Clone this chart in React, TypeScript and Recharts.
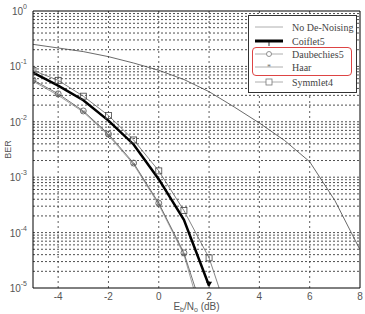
import React from "react";
import { LineChart, Line, XAxis, YAxis, ReferenceLine, Legend } from "recharts";

document.body.style.margin = "0";

// Eb/No (dB) sample points and BER
const xNoDenoise = [-5, -4, -3, -2, -1, 0, 1, 2, 3, 4, 5, 6, 7, 8];
const berNoDenoise = [0.25, 0.215, 0.185, 0.15, 0.115, 0.085, 0.058, 0.035, 0.0185, 0.0095, 0.0046, 0.0019, 0.00038, 0.000049];

const xCoiflet = [-5, -4, -3, -2, -1, 0, 1, 2];
const berCoiflet = [0.077, 0.045, 0.0245, 0.0105, 0.0039, 0.00092, 0.00017, 0.000011];

const xDaub = [-5, -4, -3, -2, -1, 0, 1, 1.45];
const berDaub = [0.057, 0.032, 0.0157, 0.006, 0.0018, 0.00034, 0.000043, 0.00001];

const xHaar = [-5, -4, -3, -2, -1, 0, 1, 1.38];
const berHaar = [0.054, 0.03, 0.015, 0.0057, 0.0017, 0.00032, 0.00004, 0.00001];

const xSymmlet = [-5, -4, -3, -2, -1, 0, 1, 2, 2.4];
const berSymmlet = [0.085, 0.056, 0.029, 0.013, 0.0047, 0.0013, 0.00025, 0.000035, 0.00001];

const seriesNames = ["No De-Noising", "Coiflet5", "Daubechies5", "Haar", "Symmlet4"];

const xTicks = [-4, -2, 0, 2, 4, 6, 8];
const yTicks = [1e-5, 1e-4, 1e-3, 1e-2, 1e-1, 1];
const gridX = [-4, -2, 0, 2, 4, 6];
const gridY: number[] = [];
for (let d = -5; d < 0; d++) {
  for (let m = 1; m <= 9; m++) {
    if (!(d === -5 && m === 1)) gridY.push(m * Math.pow(10, d));
  }
}

const zip = (xs: number[], ys: number[]) => xs.map((x, i) => ({ x, ber: ys[i] }));

const onGrid = (p: any) => Number.isInteger(p?.payload?.x);

function CircleDot(props: any) {
  const { cx, cy, index } = props;
  if (!onGrid(props)) return <g key={index} />;
  return <circle key={index} cx={cx} cy={cy} r={3} fill="none" stroke="#555" strokeWidth={0.8} />;
}

function StarDot(props: any) {
  const { cx, cy, index } = props;
  if (!onGrid(props)) return <g key={index} />;
  const s = 2.5;
  return (
    <g key={index} stroke="#666" strokeWidth={0.7}>
      <line x1={cx - s} y1={cy} x2={cx + s} y2={cy} />
      <line x1={cx - s * 0.7} y1={cy - s * 0.7} x2={cx + s * 0.7} y2={cy + s * 0.7} />
      <line x1={cx - s * 0.7} y1={cy + s * 0.7} x2={cx + s * 0.7} y2={cy - s * 0.7} />
    </g>
  );
}

function SquareDot(props: any) {
  const { cx, cy, index } = props;
  if (!onGrid(props)) return <g key={index} />;
  return <rect key={index} x={cx - 3} y={cy - 3} width={6} height={6} fill="none" stroke="#444" strokeWidth={0.8} />;
}

// Coiflet5 markers are hidden under the thick line; only the last one shows
function EndDot(props: any) {
  const { cx, cy, index } = props;
  if (index !== xCoiflet.length - 1) return <g key={index} />;
  return <path key={index} d={`M${cx - 3},${cy - 4} L${cx + 3},${cy - 4} L${cx},${cy + 1} Z`} fill="#000" />;
}

function YTick({ x, y, payload }: any) {
  const exp = Math.round(Math.log10(payload.value));
  return (
    <text x={x + 2} y={y + 4} textAnchor="end" fontSize={10} fill="#555" fontFamily="Liberation Sans, Arial, sans-serif">
      10
      <tspan dy={-6} fontSize={7}>
        {exp}
      </tspan>
    </text>
  );
}

function XTick({ x, y, payload }: any) {
  return (
    <text x={x} y={y + 4} textAnchor="middle" fontSize={10} fill="#555" fontFamily="Liberation Sans, Arial, sans-serif">
      {payload.value}
    </text>
  );
}

function XLabel({ viewBox }: any) {
  const cx = viewBox.x + viewBox.width / 2;
  return (
    <text x={cx} y={viewBox.y + 22} textAnchor="middle" fontSize={10} fill="#555" fontFamily="Liberation Sans, Arial, sans-serif">
      E<tspan fontSize={7} dy={2}>b</tspan>
      <tspan dy={-2}>/N</tspan>
      <tspan fontSize={7} dy={2}>o</tspan>
      <tspan dy={-2}> (dB)</tspan>
    </text>
  );
}

function YLabel({ viewBox }: any) {
  const cy = viewBox.y + viewBox.height / 2;
  return (
    <text x={11} y={cy} textAnchor="middle" fontSize={9} fill="#555" fontFamily="Liberation Sans, Arial, sans-serif" transform={`rotate(-90 11 ${cy})`}>
      BER
    </text>
  );
}

function LegendSample({ kind }: { kind: number }) {
  const mid = 6;
  return (
    <svg width={30} height={12} style={{ display: "block" }}>
      <line x1={1} y1={mid} x2={29} y2={mid} stroke={kind === 1 ? "#000" : "#999"} strokeWidth={kind === 1 ? 3 : 0.8} />
      {kind === 1 && <line x1={15} y1={mid} x2={15} y2={mid + 5} stroke="#000" strokeWidth={0.8} />}
      {kind === 2 && <circle cx={15} cy={mid} r={2.5} fill="#fff" stroke="#777" strokeWidth={0.8} />}
      {kind === 3 && <text x={15} y={mid + 3} textAnchor="middle" fontSize={8} fill="#777">*</text>}
      {kind === 4 && <rect x={12} y={mid - 3} width={6} height={6} fill="#fff" stroke="#777" strokeWidth={0.8} />}
    </svg>
  );
}

function LegendBox() {
  const rows = [26, 40, 53, 66, 81];
  return (
    <div style={{ position: "relative", width: 109, height: 78, border: "1px solid #333", background: "#fff", boxSizing: "border-box" }}>
      <div style={{ position: "absolute", left: 3, top: 31, width: 98, height: 27, border: "1px solid #d44", borderRadius: 4 }} />
      {seriesNames.map((name, i) => (
        <div key={name} style={{ position: "absolute", left: 5, top: rows[i] - 15 - 6, display: "flex", alignItems: "center", height: 12 }}>
          <LegendSample kind={i} />
          <span style={{ marginLeft: 8, fontFamily: "Liberation Serif, Times New Roman, serif", fontSize: 10, color: "#444", whiteSpace: "nowrap" }}>
            {name}
          </span>
        </div>
      ))}
    </div>
  );
}

export default function App() {
  return (
    <div style={{ width: 365, height: 314, background: "#fff", overflow: "hidden" }}>
      <LineChart width={365} height={314} margin={{ top: 11, right: 5, bottom: 0, left: 0 }}>
        <XAxis
          type="number"
          dataKey="x"
          domain={[-5, 8]}
          ticks={xTicks}
          allowDataOverflow
          tick={<XTick />}
          tickLine={false}
          axisLine={{ stroke: "#000", strokeWidth: 1 }}
          height={26}
          label={<XLabel />}
        />
        <YAxis
          type="number"
          scale="log"
          dataKey="ber"
          domain={[1e-5, 1]}
          ticks={yTicks}
          allowDataOverflow
          tick={<YTick />}
          tickLine={false}
          axisLine={{ stroke: "#000", strokeWidth: 1 }}
          width={33}
          label={<YLabel />}
        />
        {gridY.map((v) => (
          <ReferenceLine key={`gy${v}`} y={v} stroke="#222" strokeWidth={0.8} strokeDasharray="2 2" />
        ))}
        {gridX.map((v) => (
          <ReferenceLine key={`gx${v}`} x={v} stroke="#333" strokeWidth={0.8} strokeDasharray="2 3" />
        ))}
        <ReferenceLine x={8} stroke="#000" strokeWidth={1} />
        <ReferenceLine y={1} stroke="#000" strokeWidth={1} />
        <Line data={zip(xNoDenoise, berNoDenoise)} dataKey="ber" type="linear" stroke="#444" strokeWidth={0.8} dot={false} isAnimationActive={false} />
        <Line data={zip(xSymmlet, berSymmlet)} dataKey="ber" type="linear" stroke="#666" strokeWidth={0.8} dot={<SquareDot />} isAnimationActive={false} />
        <Line data={zip(xHaar, berHaar)} dataKey="ber" type="linear" stroke="#888" strokeWidth={0.8} dot={<StarDot />} isAnimationActive={false} />
        <Line data={zip(xDaub, berDaub)} dataKey="ber" type="linear" stroke="#555" strokeWidth={0.8} dot={<CircleDot />} isAnimationActive={false} />
        <Line data={zip(xCoiflet, berCoiflet)} dataKey="ber" type="linear" stroke="#000" strokeWidth={2.5} dot={<EndDot />} isAnimationActive={false} />
        <Legend layout="vertical" align="center" verticalAlign="middle" content={<LegendBox />} wrapperStyle={{ left: 248, top: 15, width: 109 }} />
      </LineChart>
    </div>
  );
}
